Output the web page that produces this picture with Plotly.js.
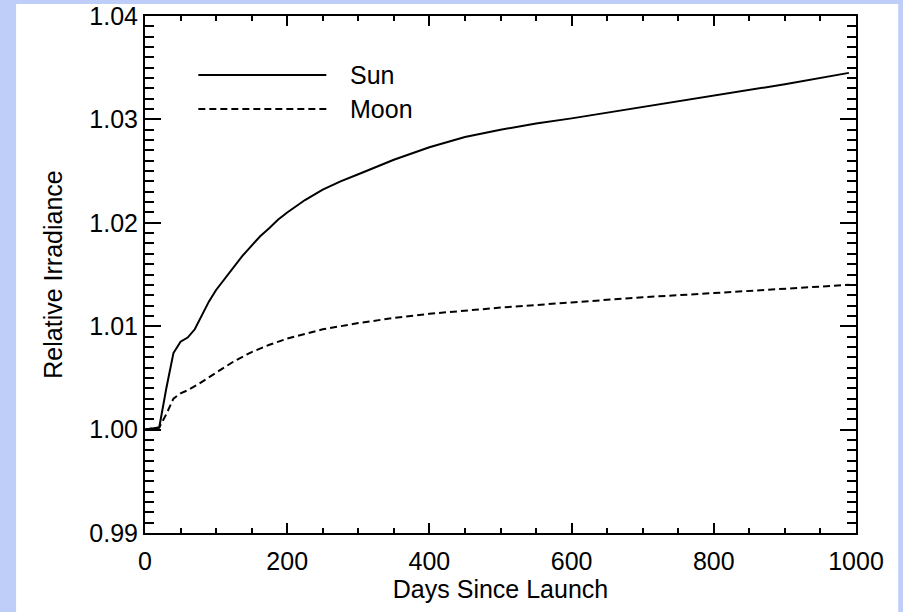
<!DOCTYPE html>
<html>
<head>
<meta charset="utf-8">
<script src="https://cdn.plot.ly/plotly-3.0.1.min.js"></script>
<style>
  html, body { margin: 0; padding: 0; background: #bfcdf9; }
  #chart { width: 903px; height: 612px; }
</style>
</head>
<body>
<div id="chart"></div>
<script>
// Data
const sunDays = [0, 10, 20, 30, 40, 50, 60, 70, 80, 90, 100, 112, 125, 137, 150, 162, 175, 187, 200, 225, 250, 275, 300, 350, 400, 450, 500, 550, 600, 700, 800, 900, 990];
const sunIrr  = [1.0000, 1.0001, 1.0002, 1.0040, 1.0074, 1.0085, 1.0089, 1.0097, 1.0110, 1.0124, 1.0135, 1.0146, 1.0157, 1.0168, 1.0178, 1.0187, 1.0195, 1.0203, 1.0210, 1.0222, 1.0232, 1.0240, 1.0247, 1.0261, 1.0273, 1.0283, 1.0290, 1.0296, 1.0301, 1.0312, 1.0323, 1.0334, 1.0345];

const moonDays = [0, 10, 20, 30, 40, 50, 60, 75, 100, 125, 150, 175, 200, 250, 300, 350, 400, 450, 500, 600, 700, 800, 900, 990];
const moonIrr  = [1.0000, 1.0001, 1.0002, 1.0015, 1.0030, 1.0035, 1.0038, 1.0044, 1.0055, 1.0066, 1.0075, 1.0082, 1.0088, 1.0097, 1.0103, 1.0108, 1.0112, 1.0115, 1.0118, 1.0123, 1.0128, 1.0132, 1.0136, 1.0140];

const seriesNames = ["Sun", "Moon"];
const xTickVals = [0, 200, 400, 600, 800, 1000];
const yTickVals = [0.99, 1.00, 1.01, 1.02, 1.03, 1.04];
const yTickText = ["0.99", "1.00", "1.01", "1.02", "1.03", "1.04"];

const FONT = "Liberation Sans, Arial, Helvetica, sans-serif";
const FS = 25;

const traces = [
  { x: sunDays, y: sunIrr, type: "scatter", mode: "lines", name: seriesNames[0],
    line: { color: "#000", width: 2 }, showlegend: false },
  { x: moonDays, y: moonIrr, type: "scatter", mode: "lines", name: seriesNames[1],
    line: { color: "#000", width: 2, dash: "7px,4px" }, showlegend: false }
];

const layout = {
  width: 903, height: 612,
  margin: { l: 145, r: 47, t: 16, b: 79 },
  paper_bgcolor: "#bfcdf9",
  plot_bgcolor: "#ffffff",
  font: { family: FONT, color: "#000", size: FS },
  xaxis: {
    range: [0, 1000], tickvals: xTickVals, ticktext: xTickVals.map(String),
    ticks: "inside", ticklen: 10, tickwidth: 2, tickcolor: "#000",
    minor: { dtick: 50, ticks: "inside", ticklen: 5, tickwidth: 2, tickcolor: "#000", showgrid: false },
    showline: true, linecolor: "#000", linewidth: 2, mirror: "ticks",
    showgrid: false, zeroline: false, automargin: false,
    ticklabelstandoff: 5,
    tickfont: { family: FONT, size: FS },
    title: { text: "Days Since Launch", font: { family: FONT, size: FS }, standoff: 2 }
  },
  yaxis: {
    range: [0.99, 1.04], tickvals: yTickVals, ticktext: yTickText,
    ticks: "inside", ticklen: 16, tickwidth: 2, tickcolor: "#000",
    minor: { dtick: 0.001, tick0: 0.99, ticks: "inside", ticklen: 9, tickwidth: 2, tickcolor: "#000", showgrid: false },
    showline: true, linecolor: "#000", linewidth: 2, mirror: "ticks",
    showgrid: false, zeroline: false, automargin: false,
    tickfont: { family: FONT, size: FS },
    title: { text: "Relative Irradiance", font: { family: FONT, size: FS }, standoff: 20 }
  },
  shapes: [
    // white panel behind the chart
    { type: "rect", xref: "paper", yref: "paper", x0: -0.1813, x1: 1.0594, y0: -0.1528, y1: 1.0232,
      fillcolor: "#ffffff", line: { width: 0 }, layer: "below" },
    // legend samples
    { type: "line", xref: "paper", yref: "paper", x0: 0.075, x1: 0.255, y0: 0.886, y1: 0.886,
      line: { color: "#000", width: 2 } },
    { type: "line", xref: "paper", yref: "paper", x0: 0.075, x1: 0.255, y0: 0.820, y1: 0.820,
      line: { color: "#000", width: 2, dash: "7px,4px" } }
  ],
  annotations: [
    { xref: "paper", yref: "paper", x: 0.285, y: 0.886, xanchor: "left", yanchor: "middle",
      text: seriesNames[0], showarrow: false, font: { family: FONT, size: FS } },
    { xref: "paper", yref: "paper", x: 0.285, y: 0.820, xanchor: "left", yanchor: "middle",
      text: seriesNames[1], showarrow: false, font: { family: FONT, size: FS } }
  ]
};

Plotly.newPlot("chart", traces, layout, { displayModeBar: false, staticPlot: true });
</script>
</body>
</html>
